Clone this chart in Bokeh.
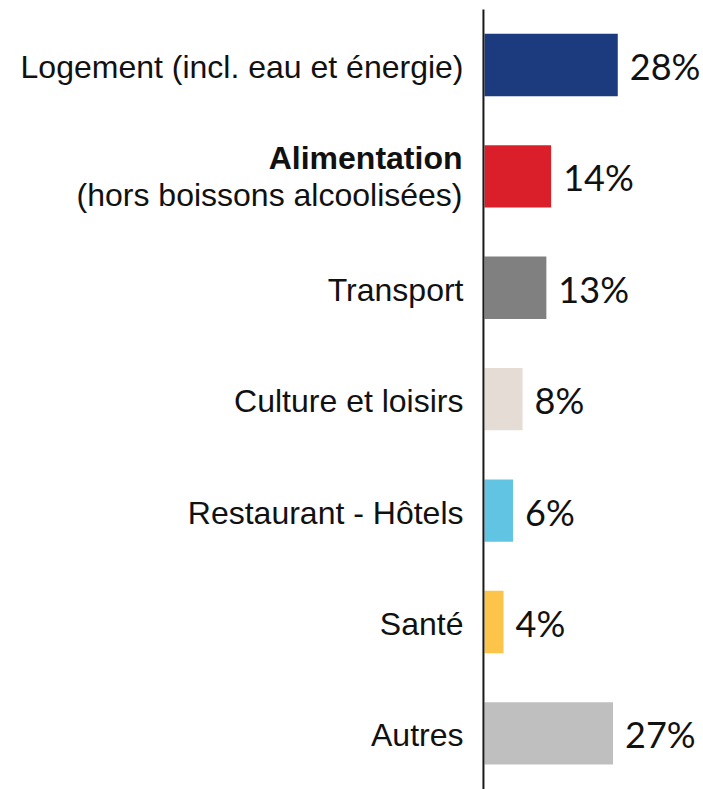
from bokeh.plotting import figure
from bokeh.models import Range1d, ColumnDataSource
from bokeh.core.properties import value
from bokeh.embed import file_html
from bokeh.resources import INLINE

# ---- data ----
categories = ["Logement (incl. eau et énergie)", "Alimentation", "Transport",
              "Culture et loisirs", "Restaurant - Hôtels", "Santé", "Autres"]
subtitles = ["", "(hors boissons alcoolisées)", "", "", "", "", ""]
shares = [28, 14, 13, 8, 6, 4, 27]
share_labels = ["28%", "14%", "13%", "8%", "6%", "4%", "27%"]
colors = ["#1C3A7E", "#DA1F2B", "#808080", "#E5DDD5", "#62C4E3", "#FDC44A", "#BFBFBF"]

rows = list(range(len(categories)))

W, H = 703, 789
p = figure(width=W, height=H, output_backend="svg", toolbar_location=None,
           min_border=0, x_range=Range1d(-101.68, 46.01),
           y_range=Range1d(6.504, -0.579))
p.axis.visible = False
p.grid.visible = False
p.outline_line_color = None
p.background_fill_color = "white"
p.border_fill_color = "white"

src = ColumnDataSource(dict(y=rows, v=shares, c=colors, lab=share_labels))
p.hbar(y="y", left=0, right="v", height=0.56, fill_color="c", line_color=None, source=src)

# vertical axis line
p.segment(x0=[-0.22], y0=[-0.498], x1=[-0.22], y1=[6.6], line_color="#1a1a1a", line_width=2)

# value labels
p.text(x="v", y="y", text="lab", source=src, x_offset=12, y_offset=1,
       text_font=value("Lato"), text_font_size="36px", text_color="#111111",
       text_align="left", text_baseline="middle")

# category labels
single_y, single_t, multi_y, multi_t, sub_t = [], [], [], [], []
for r, cat, sub in zip(rows, categories, subtitles):
    if sub:
        multi_y.append(r); multi_t.append(cat); sub_t.append(sub)
    else:
        single_y.append(r); single_t.append(cat)

p.text(x=0, y=single_y, text=single_t, x_offset=-21, y_offset=2,
       text_font=value("Liberation Sans"), text_font_size="32px", text_color="#111111",
       text_align="right", text_baseline="middle")
p.text(x=0, y=multi_y, text=multi_t, x_offset=-22, y_offset=-18,
       text_font=value("Liberation Sans"), text_font_size="32px", text_font_style="bold",
       text_color="#111111", text_align="right", text_baseline="middle")
p.text(x=0, y=multi_y, text=sub_t, x_offset=-22, y_offset=19,
       text_font=value("Liberation Sans"), text_font_size="32px", text_color="#111111",
       text_align="right", text_baseline="middle")

open("out.html", "w").write(file_html(p, INLINE))
